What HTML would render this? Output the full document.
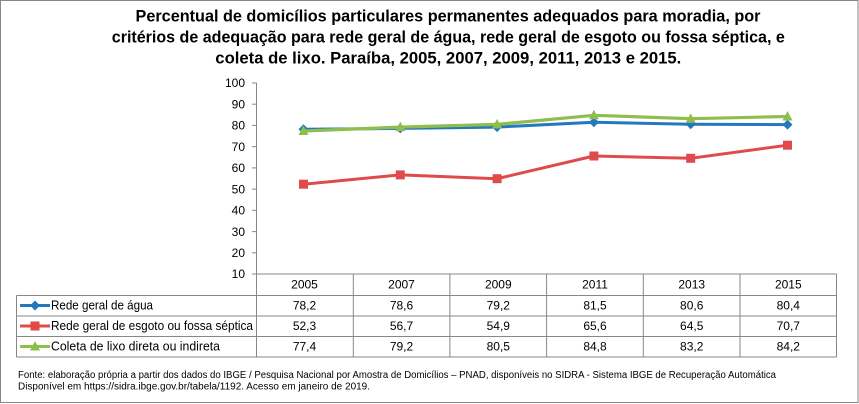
<!DOCTYPE html>
<html><head><meta charset="utf-8"><style>
html,body{margin:0;padding:0;background:#fff;}
svg{display:block;}
text{font-family:"Liberation Sans",sans-serif;fill:#000;}
</style></head><body>
<svg width="859" height="404" viewBox="0 0 859 404" xmlns="http://www.w3.org/2000/svg">
<rect x="0" y="0" width="859" height="404" fill="#fff"/>
<rect x="0.5" y="0.5" width="857.5" height="402" fill="none" stroke="#878787" stroke-width="1"/>

<!-- Title -->
<g font-weight="bold" font-size="17" text-anchor="middle">
<text x="448" y="21.5" textLength="625" lengthAdjust="spacingAndGlyphs">Percentual de domicílios particulares permanentes adequados para moradia, por</text>
<text x="448.3" y="42.5" textLength="673" lengthAdjust="spacingAndGlyphs">critérios de adequação para rede geral de água, rede geral de esgoto ou fossa séptica, e</text>
<text x="448.3" y="63.3" textLength="466" lengthAdjust="spacingAndGlyphs">coleta de lixo. Paraíba, 2005, 2007, 2009, 2011, 2013 e 2015.</text>
</g>

<!-- Y axis -->
<g stroke="#878787" stroke-width="1" fill="none">
<line x1="256.5" y1="82.5" x2="256.5" y2="357"/>
<line x1="252" y1="83" x2="256.5" y2="83"/>
<line x1="252" y1="104.2" x2="256.5" y2="104.2"/>
<line x1="252" y1="125.4" x2="256.5" y2="125.4"/>
<line x1="252" y1="146.7" x2="256.5" y2="146.7"/>
<line x1="252" y1="167.9" x2="256.5" y2="167.9"/>
<line x1="252" y1="189.1" x2="256.5" y2="189.1"/>
<line x1="252" y1="210.3" x2="256.5" y2="210.3"/>
<line x1="252" y1="231.6" x2="256.5" y2="231.6"/>
<line x1="252" y1="252.8" x2="256.5" y2="252.8"/>
<line x1="252" y1="274" x2="256.5" y2="274"/>
</g>
<g font-size="12" text-anchor="end">
<text x="245" y="87.2">100</text>
<text x="245" y="108.4">90</text>
<text x="245" y="129.6">80</text>
<text x="245" y="150.9">70</text>
<text x="245" y="172.1">60</text>
<text x="245" y="193.3">50</text>
<text x="245" y="214.5">40</text>
<text x="245" y="235.8">30</text>
<text x="245" y="257">20</text>
<text x="245" y="278.2">10</text>
</g>

<!-- Table grid -->
<g stroke="#878787" stroke-width="1" fill="none">
<line x1="256.5" y1="274" x2="836.5" y2="274"/>
<line x1="16.5" y1="295.5" x2="836.5" y2="295.5"/>
<line x1="16.5" y1="316" x2="836.5" y2="316"/>
<line x1="16.5" y1="336.5" x2="836.5" y2="336.5"/>
<line x1="16.5" y1="357" x2="836.5" y2="357"/>
<line x1="16.5" y1="295.5" x2="16.5" y2="357"/>
<line x1="353.3" y1="274" x2="353.3" y2="357"/>
<line x1="449.9" y1="274" x2="449.9" y2="357"/>
<line x1="546.6" y1="274" x2="546.6" y2="357"/>
<line x1="643.3" y1="274" x2="643.3" y2="357"/>
<line x1="740" y1="274" x2="740" y2="357"/>
<line x1="836.5" y1="274" x2="836.5" y2="357"/>
</g>

<!-- Table text -->
<g font-size="12" text-anchor="middle">
<text x="304.5" y="288.5">2005</text>
<text x="401.5" y="288.5">2007</text>
<text x="498.3" y="288.5">2009</text>
<text x="595" y="288.5">2011</text>
<text x="691.7" y="288.5">2013</text>
<text x="788.3" y="288.5">2015</text>

<text x="304.5" y="309.5">78,2</text>
<text x="401.5" y="309.5">78,6</text>
<text x="498.3" y="309.5">79,2</text>
<text x="595" y="309.5">81,5</text>
<text x="691.7" y="309.5">80,6</text>
<text x="788.3" y="309.5">80,4</text>

<text x="304.5" y="330">52,3</text>
<text x="401.5" y="330">56,7</text>
<text x="498.3" y="330">54,9</text>
<text x="595" y="330">65,6</text>
<text x="691.7" y="330">64,5</text>
<text x="788.3" y="330">70,7</text>

<text x="304.5" y="350.5">77,4</text>
<text x="401.5" y="350.5">79,2</text>
<text x="498.3" y="350.5">80,5</text>
<text x="595" y="350.5">84,8</text>
<text x="691.7" y="350.5">83,2</text>
<text x="788.3" y="350.5">84,2</text>
</g>
<g font-size="12.5">
<text x="51" y="309.5" textLength="102" lengthAdjust="spacingAndGlyphs">Rede geral de água</text>
<text x="51" y="330" textLength="202" lengthAdjust="spacingAndGlyphs">Rede geral de esgoto ou fossa séptica</text>
<text x="51" y="350.5" textLength="169" lengthAdjust="spacingAndGlyphs">Coleta de lixo direta ou indireta</text>
</g>

<!-- Legend keys -->
<line x1="20" y1="305.5" x2="50" y2="305.5" stroke="#2379C0" stroke-width="3"/>
<polygon points="35,300.5 40,305.5 35,310.5 30,305.5" fill="#2379C0"/>
<line x1="20" y1="326" x2="50" y2="326" stroke="#DF4B4B" stroke-width="3"/>
<rect x="30.5" y="321.5" width="9" height="9" fill="#DF4B4B"/>
<line x1="20" y1="346.5" x2="50" y2="346.5" stroke="#8FBE4F" stroke-width="3"/>
<polygon points="35,341 40,350.5 30,350.5" fill="#8FBE4F"/>

<!-- Series: blue -->
<polyline fill="none" stroke="#2379C0" stroke-width="3" stroke-linejoin="round"
 points="303.5,129.3 400.3,128.4 497.1,127.1 593.9,122.3 690.7,124.2 787.5,124.6"/>
<g fill="#2379C0">
<polygon points="303.5,124.3 308.5,129.3 303.5,134.3 298.5,129.3"/>
<polygon points="400.3,123.4 405.3,128.4 400.3,133.4 395.3,128.4"/>
<polygon points="497.1,122.1 502.1,127.1 497.1,132.1 492.1,127.1"/>
<polygon points="593.9,117.3 598.9,122.3 593.9,127.3 588.9,122.3"/>
<polygon points="690.7,119.2 695.7,124.2 690.7,129.2 685.7,124.2"/>
<polygon points="787.5,119.6 792.5,124.6 787.5,129.6 782.5,124.6"/>
</g>

<!-- Series: green -->
<polyline fill="none" stroke="#8FBE4F" stroke-width="3.2" stroke-linejoin="round"
 points="303.5,131 400.3,127.1 497.1,124.4 593.9,115.3 690.7,118.7 787.5,116.5"/>
<g fill="#8FBE4F">
<polygon points="303.5,125.5 308.5,135 298.5,135"/>
<polygon points="400.3,121.6 405.3,131.1 395.3,131.1"/>
<polygon points="497.1,118.9 502.1,128.4 492.1,128.4"/>
<polygon points="593.9,109.8 598.9,119.3 588.9,119.3"/>
<polygon points="690.7,113.2 695.7,122.7 685.7,122.7"/>
<polygon points="787.5,111 792.5,120.5 782.5,120.5"/>
</g>

<!-- Series: red -->
<polyline fill="none" stroke="#DF4B4B" stroke-width="3" stroke-linejoin="round"
 points="303.5,184.2 400.3,174.9 497.1,178.7 593.9,156 690.7,158.3 787.5,145.2"/>
<g fill="#DF4B4B">
<rect x="299" y="179.7" width="9" height="9"/>
<rect x="395.8" y="170.4" width="9" height="9"/>
<rect x="492.6" y="174.2" width="9" height="9"/>
<rect x="589.4" y="151.5" width="9" height="9"/>
<rect x="686.2" y="153.8" width="9" height="9"/>
<rect x="783" y="140.7" width="9" height="9"/>
</g>

<!-- Footnote -->
<g font-size="10">
<text x="18" y="378" textLength="758" lengthAdjust="spacingAndGlyphs">Fonte: elaboração própria  a partir dos dados do IBGE / Pesquisa Nacional por Amostra de Domicílios – PNAD, disponíveis no SIDRA - Sistema IBGE de Recuperação Automática</text>
<text x="18" y="389.5" textLength="352" lengthAdjust="spacingAndGlyphs">Disponível em https://sidra.ibge.gov.br/tabela/1192. Acesso em janeiro de 2019.</text>
</g>
</svg>
</body></html>
